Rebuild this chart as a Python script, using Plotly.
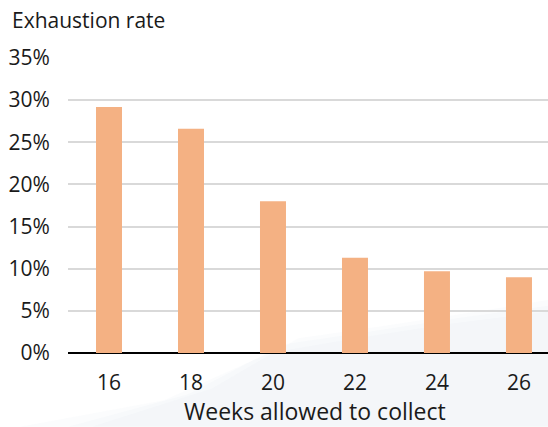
import plotly.graph_objects as go

weeks = ["16", "18", "20", "22", "24", "26"]
exhaustion_rate = [29.2, 26.6, 18.0, 11.3, 9.7, 9.0]
y_ticks = [0, 5, 10, 15, 20, 25, 30, 35]
y_tick_labels = [f"{v}%" for v in y_ticks]

FONT = "Open Sans"
TEXT = "#1a1a1a"

fig = go.Figure(
    go.Bar(
        x=list(range(len(weeks))),
        y=exhaustion_rate,
        marker=dict(color="#F4B183", line=dict(width=0)),
        width=0.317,
        hoverinfo="skip",
    )
)

fig.update_layout(
    width=548,
    height=427,
    margin=dict(l=68, r=0, t=58, b=74),
    paper_bgcolor="white",
    plot_bgcolor="rgba(0,0,0,0)",
    showlegend=False,
    font=dict(family=FONT, size=21, color=TEXT),
)

# very faint, soft backdrop wash behind the lower part of the chart
ridges = [
    "M -0.1 -0.25 L 0.2 -0.16 L 0.42 0.0 L 0.6 0.05 L 0.8 0.10 L 1.0 0.14 L 1.0 -0.25 Z",
    "M 0.0 -0.25 L 0.25 -0.14 L 0.45 0.03 L 0.62 0.07 L 0.82 0.12 L 1.0 0.16 L 1.0 -0.25 Z",
    "M 0.05 -0.25 L 0.3 -0.12 L 0.48 0.05 L 0.65 0.09 L 0.85 0.14 L 1.0 0.18 L 1.0 -0.25 Z",
]
for path in ridges:
    fig.add_shape(
        type="path",
        xref="paper", yref="paper",
        path=path,
        fillcolor="rgba(225,231,242,0.12)",
        line=dict(width=0),
        layer="below",
    )

fig.update_xaxes(
    range=[-0.5, 5.354],
    tickvals=list(range(len(weeks))),
    ticktext=weeks,
    showgrid=False,
    zeroline=False,
    showline=False,
    ticks="outside",
    ticklen=11,
    tickcolor="rgba(0,0,0,0)",
    tickfont=dict(size=21, color=TEXT),
)

fig.update_yaxes(
    range=[0, 35],
    tickvals=y_ticks,
    ticktext=y_tick_labels,
    showgrid=True,
    gridcolor="#d9d9d9",
    gridwidth=1.5,
    zeroline=True,
    zerolinecolor="#000000",
    zerolinewidth=2,
    showline=False,
    ticks="outside",
    ticklen=13,
    tickcolor="rgba(0,0,0,0)",
    tickfont=dict(size=21, color=TEXT),
)

fig.add_annotation(
    text="Weeks allowed to collect",
    xref="paper", yref="paper",
    x=0.5, y=0,
    xshift=7, yshift=-58,
    xanchor="center", yanchor="middle",
    showarrow=False,
    font=dict(family=FONT, size=23, color=TEXT),
)

fig.add_annotation(
    text="Exhaustion rate",
    xref="paper", yref="paper",
    x=0, y=1,
    xshift=-58, yshift=58 - 20,
    xanchor="left", yanchor="middle",
    showarrow=False,
    font=dict(family=FONT, size=21, color=TEXT),
)

fig.write_html("out.html")
